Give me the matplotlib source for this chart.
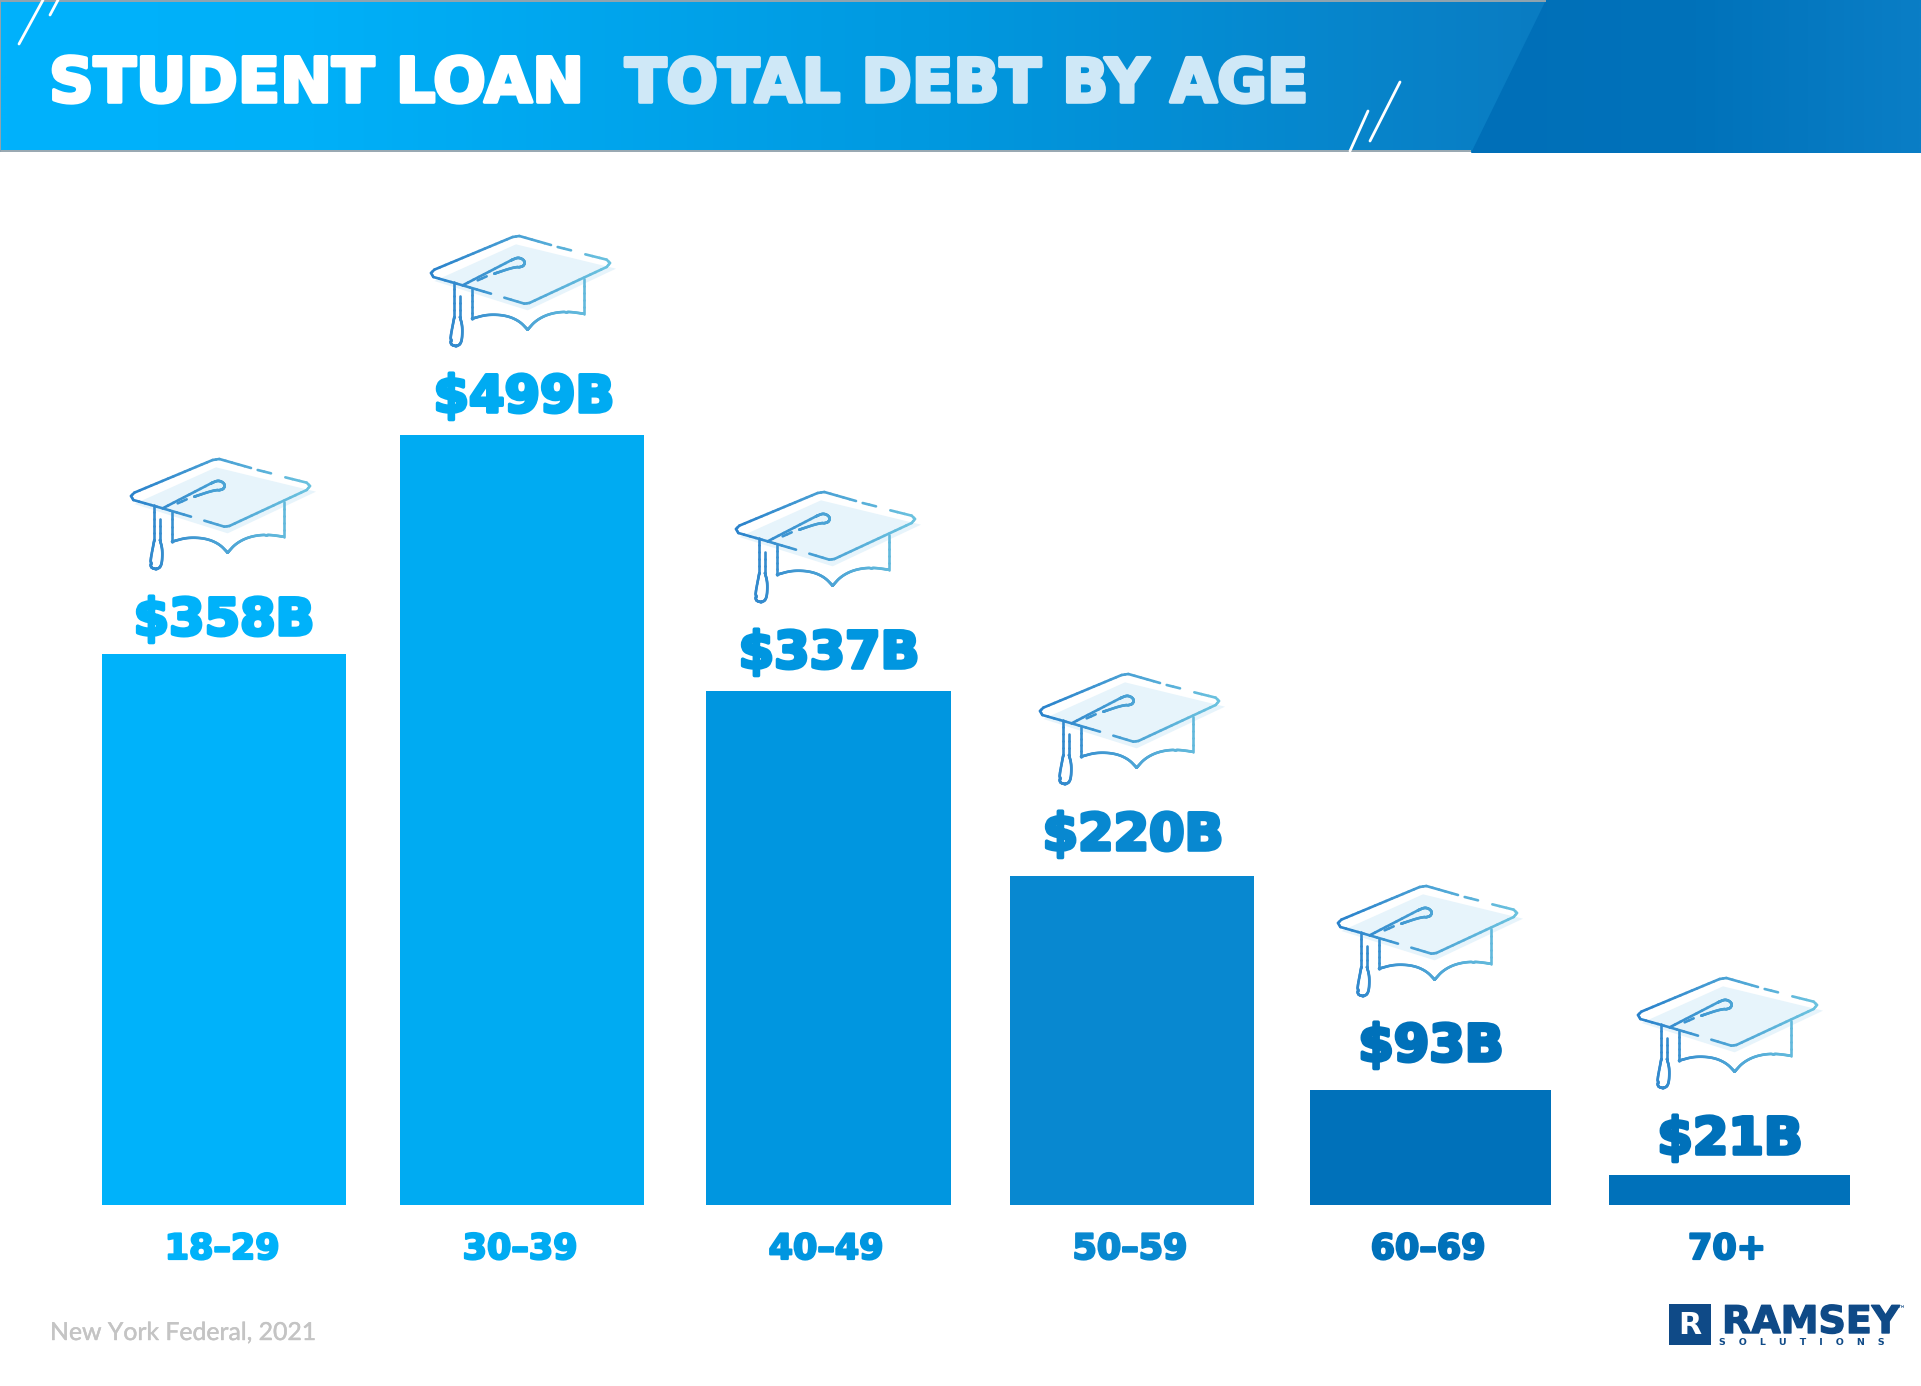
#!/usr/bin/env python
import numpy as np
import matplotlib

matplotlib.use("Agg")
import matplotlib.pyplot as plt
import matplotlib.patheffects as pe
from matplotlib.collections import LineCollection
from matplotlib.colors import LinearSegmentedColormap, to_rgb
from matplotlib.patches import Polygon, Rectangle

W, H = 1921, 1386

# Data
age_groups = ["18–29", "30–39", "40–49", "50–59", "60–69", "70+"]
debt_labels = ["$358B", "$499B", "$337B", "$220B", "$93B", "$21B"]
# bar heights as drawn in the picture, in $B (they are not strictly to scale)
bar_heights = [358.6, 501, 334.5, 214, 75, 19.5]

# Layout (pixels)
bar_left = [102, 400, 706, 1010, 1310, 1609]
bar_width = [244, 244, 245, 244, 241, 241]
bar_base = 1205
px_per_billion = 1.5366
bar_colors = ["#00B2FA", "#00ABF2", "#0096E0", "#0888D0", "#0071BA", "#0071BA"]
label_x = [224, 524, 829, 1133, 1431, 1730]
label_y = [635, 412, 668, 850, 1061, 1154]
cat_x = [222, 520, 826, 1130, 1428, 1727]
hat_xy = [(131, 459), (431, 236), (736, 492), (1040, 674), (1338, 886), (1638, 978)]


def px_text(ax, x, y, s, size_px, color, **kw):
    """Text placed in pixel coordinates, size given in pixels."""
    return ax.text(x, y, s, fontsize=size_px * 0.72, color=color, **kw)


def heavy(color, width):
    return [pe.withStroke(linewidth=width, foreground=color)]


def chaikin(pts, rounds=3):
    """Corner cutting that keeps both end points."""
    p = np.asarray(pts, dtype=float)
    for _ in range(rounds):
        q = [p[0]]
        for a, b in zip(p[:-1], p[1:]):
            q += [0.75 * a + 0.25 * b, 0.25 * a + 0.75 * b]
        q.append(p[-1])
        p = np.array(q)
    return p


def densify(pts):
    dense = []
    for a, b in zip(pts[:-1], pts[1:]):
        n = max(2, int(np.hypot(*(b - a)) / 6))
        dense.append(np.linspace(a, b, n, endpoint=False))
    dense.append(pts[-1:])
    return np.vstack(dense)


def draw_hat(ax, ox, oy):
    def local(points):
        # hat outline was read in zoomed coordinates (3x)
        p = np.asarray(points, dtype=float)
        return np.column_stack([ox + (p[:, 0] - 95) / 3, oy + (p[:, 1] - 57) / 3])

    ax.add_patch(Polygon(local([(105, 192), (350, 82), (650, 155), (385, 280)]),
                         closed=True, fc="#E7F4FB", ec="none", zorder=3))
    straight = [
        [(190, 205), (102, 180), (95, 168), (105, 158), (340, 60), (360, 57), (455, 84)],
        [(475, 90), (515, 100)],
        [(558, 112), (622, 128), (632, 138), (622, 150), (390, 258), (375, 260), (315, 242)],
        [(275, 230), (190, 205), (335, 130)],
        [(262, 178), (235, 190)],
        [(165, 195), (165, 300)],
        [(182, 300), (182, 237)],
        [(218, 215), (218, 305)],
        [(553, 290), (553, 185)],
    ]
    curved = [
        [(335, 130), (358, 120), (378, 132), (372, 150), (345, 150), (285, 170)],
        [(165, 300), (150, 378), (165, 388), (187, 382), (190, 330), (182, 300)],
        [(218, 305), (265, 292), (320, 295), (360, 312), (385, 338)],
        [(385, 338), (410, 310), (450, 290), (500, 283), (553, 290)],
    ]
    c0, c1 = np.array(to_rgb("#2A82CB")), np.array(to_rgb("#6CC3DF"))
    for s in [local(p) for p in straight] + [chaikin(local(p)) for p in curved]:
        d = densify(s)
        segs = np.stack([d[:-1], d[1:]], axis=1)
        t = np.clip((segs[:, 0, 0] - ox) / 180, 0, 1)[:, None]
        ax.add_collection(LineCollection(segs, colors=c0 + (c1 - c0) * t, linewidths=1.9,
                                         capstyle="round", zorder=4))


fig = plt.figure(figsize=(W / 100, H / 100), dpi=100, facecolor="white")

# Bars, on a value scale that puts 0 at the baseline pixel
ax = fig.add_axes([0, 0, 1, 1])
ax.set_xlim(0, W)
ax.set_ylim(-(H - bar_base) / px_per_billion, bar_base / px_per_billion)
ax.axis("off")
ax.bar(bar_left, bar_heights, width=bar_width, align="edge", color=bar_colors, zorder=2)

# Overlay in pixel coordinates for banner, hats and text
ov = fig.add_axes([0, 0, 1, 1])
ov.set_xlim(0, W)
ov.set_ylim(H, 0)
ov.axis("off")
ov.patch.set_alpha(0)

# Banner
banner_cmap = LinearSegmentedColormap.from_list(
    "banner", [(0, "#00B2FC"), (0.2, "#00B0F8"), (0.6, "#0099E0"), (1, "#0A7CC2")]
)
grad = np.linspace(0, 1, 800)[None, :]
ov.imshow(grad, extent=(0, 1546, 152, 0), cmap=banner_cmap, aspect="auto", zorder=1)
dark_cmap = LinearSegmentedColormap.from_list("dark", ["#006FB8", "#0072BA", "#0A7EC6"])
dark = ov.imshow(np.linspace(0, 1, 400)[None, :], extent=(1471, W, 153, 0), cmap=dark_cmap,
                 aspect="auto", zorder=2)
clip = Polygon([(1546, 0), (1471, 153), (W, 153), (W, 0)], closed=True, transform=ov.transData)
dark.set_clip_path(clip)
ov.set_xlim(0, W)
ov.set_ylim(H, 0)
ov.add_patch(Rectangle((0, 0), 1546, 1.5, fc="#8FA3AE", ec="none", zorder=3))
ov.add_patch(Rectangle((0, 150), 1471, 2, fc="#9AA9B2", ec="none", zorder=3))
ov.add_patch(Rectangle((0, 0), 1, 152, fc="#8FA3AE", ec="none", zorder=3))
for (x0, y0, x1, y1) in [(19, 44, 43, 0), (50, 15, 58, 0), (1400, 82, 1370, 141), (1368, 111, 1350, 151)]:
    ov.plot([x0, x1], [y0, y1], color="white", lw=2, solid_capstyle="round", zorder=4)

# Title
px_text(ov, 49, 102, "STUDENT LOAN", 62, "white", family="DejaVu Sans", weight="bold",
        va="baseline", zorder=5, path_effects=heavy("white", 2.6))
px_text(ov, 625, 102, "TOTAL DEBT BY AGE", 60.7, "#CFE8F7", family="DejaVu Sans", weight="bold",
        va="baseline", zorder=5, path_effects=heavy("#CFE8F7", 2.6))

# Hats, value labels and categories
for i in range(len(age_groups)):
    draw_hat(ov, *hat_xy[i])
    c = bar_colors[i]
    px_text(ov, label_x[i], label_y[i], debt_labels[i], 51, c, family="DejaVu Sans", weight="bold",
            ha="center", va="baseline", zorder=5, path_effects=heavy(c, 2.6))
    px_text(ov, cat_x[i], 1259, age_groups[i], 35, c, family="DejaVu Sans", weight="bold",
            ha="center", va="baseline", zorder=5, path_effects=heavy(c, 1.6))

# Source note
px_text(ov, 50, 1340, "New York Federal, 2021", 24.8, "#C4C4C4", family="Lato", va="baseline", zorder=5,
        path_effects=heavy("#C4C4C4", 0.3))

# Logo
logo = "#0F4A87"
ov.add_patch(Rectangle((1669, 1304), 42, 41, fc=logo, ec="none", zorder=5))
px_text(ov, 1690, 1334, "R", 30, "white", family="DejaVu Sans", weight="bold", ha="center", va="baseline", zorder=6)
px_text(ov, 1722, 1333, "RAMSEY", 38, logo, family="DejaVu Sans", weight="bold", va="baseline", zorder=5,
        path_effects=heavy(logo, 1.0))
px_text(ov, 1719, 1345, (" " * 4).join("SOLUTIONS"), 9.5, logo, family="DejaVu Sans", weight="bold",
        va="baseline", zorder=5)
px_text(ov, 1897, 1312, "™", 9, logo, family="DejaVu Sans", va="baseline", zorder=5)

fig.savefig("out.png", dpi=100)
